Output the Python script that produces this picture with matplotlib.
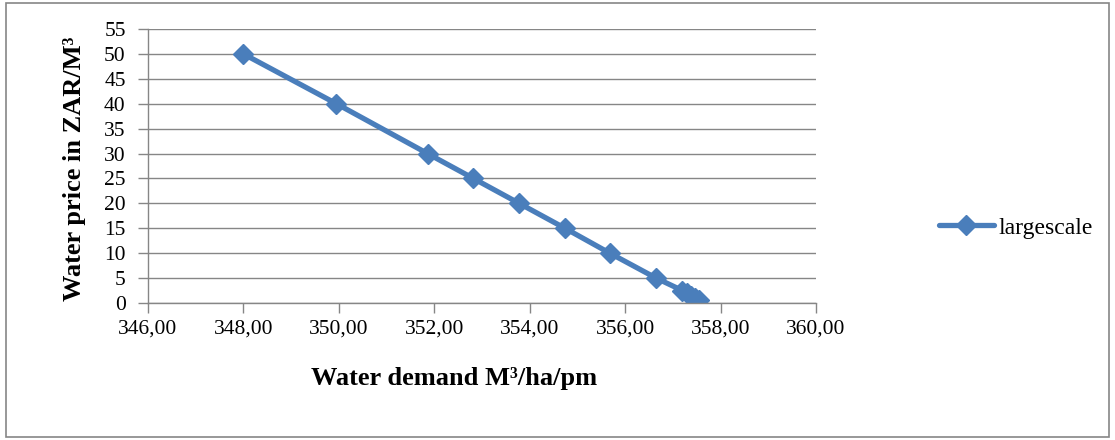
import matplotlib.pyplot as plt
from matplotlib.patches import Rectangle

plt.rcParams['font.family'] = ['Liberation Serif', 'DejaVu Serif']

# water demand (M3/ha/pm) vs water price (ZAR/M3)
demand = [348.00, 349.95, 351.86, 352.82, 353.78, 354.74, 355.68, 356.65,
          357.20, 357.30, 357.38, 357.46, 357.55]
price = [50, 40, 30, 25, 20, 15, 10, 5, 2.5, 2.0, 1.5, 1.0, 0.5]

xticks = [346, 348, 350, 352, 354, 356, 358, 360]
yticks = list(range(0, 56, 5))

blue = '#4a7ebb'
grey = '#868686'

fig = plt.figure(figsize=(11.15, 4.4), dpi=100)
ax = fig.add_axes([0.1327, 0.3114, 0.5991, 0.6227])

ax.plot(demand, price, color=blue, lw=3.8, marker='D', markersize=10.5,
        label='largescale', solid_capstyle='round')

ax.set_xlim(346, 360)
ax.set_ylim(0, 55)
ax.set_xticks(xticks)
ax.set_xticklabels([f'{v:.2f}'.replace('.', ',') for v in xticks])
ax.set_yticks(yticks)
ax.tick_params(axis='both', labelsize=15.5, color=grey, length=7, width=1)
ax.tick_params(axis='y', pad=9)
ax.tick_params(axis='x', pad=5)
ax.grid(axis='y', color=grey, lw=1)
ax.set_axisbelow(True)
for side in ['top', 'right']:
    ax.spines[side].set_visible(False)
for side in ['left', 'bottom']:
    ax.spines[side].set_color(grey)
    ax.spines[side].set_linewidth(1)

ax.set_xlabel('Water demand M³/ha/pm', fontsize=19, fontweight='bold')
ax.set_ylabel('Water price in ZAR/M³', fontsize=19, fontweight='bold')
ax.xaxis.set_label_coords((454 - 148) / 668, -0.235)
ax.yaxis.set_label_coords(-0.093, 0.49)

fig.legend(*ax.get_legend_handles_labels(), loc='center left',
           bbox_to_anchor=(918 / 1115, 0.482), frameon=False,
           fontsize=17, handlelength=2.3, handletextpad=0.2)

fig.patches.append(Rectangle((6 / 1115, 3 / 440), 1103 / 1115, 434 / 440,
                             transform=fig.transFigure, fill=False,
                             edgecolor=grey, lw=1.2))

fig.savefig('out.png', dpi=100)
